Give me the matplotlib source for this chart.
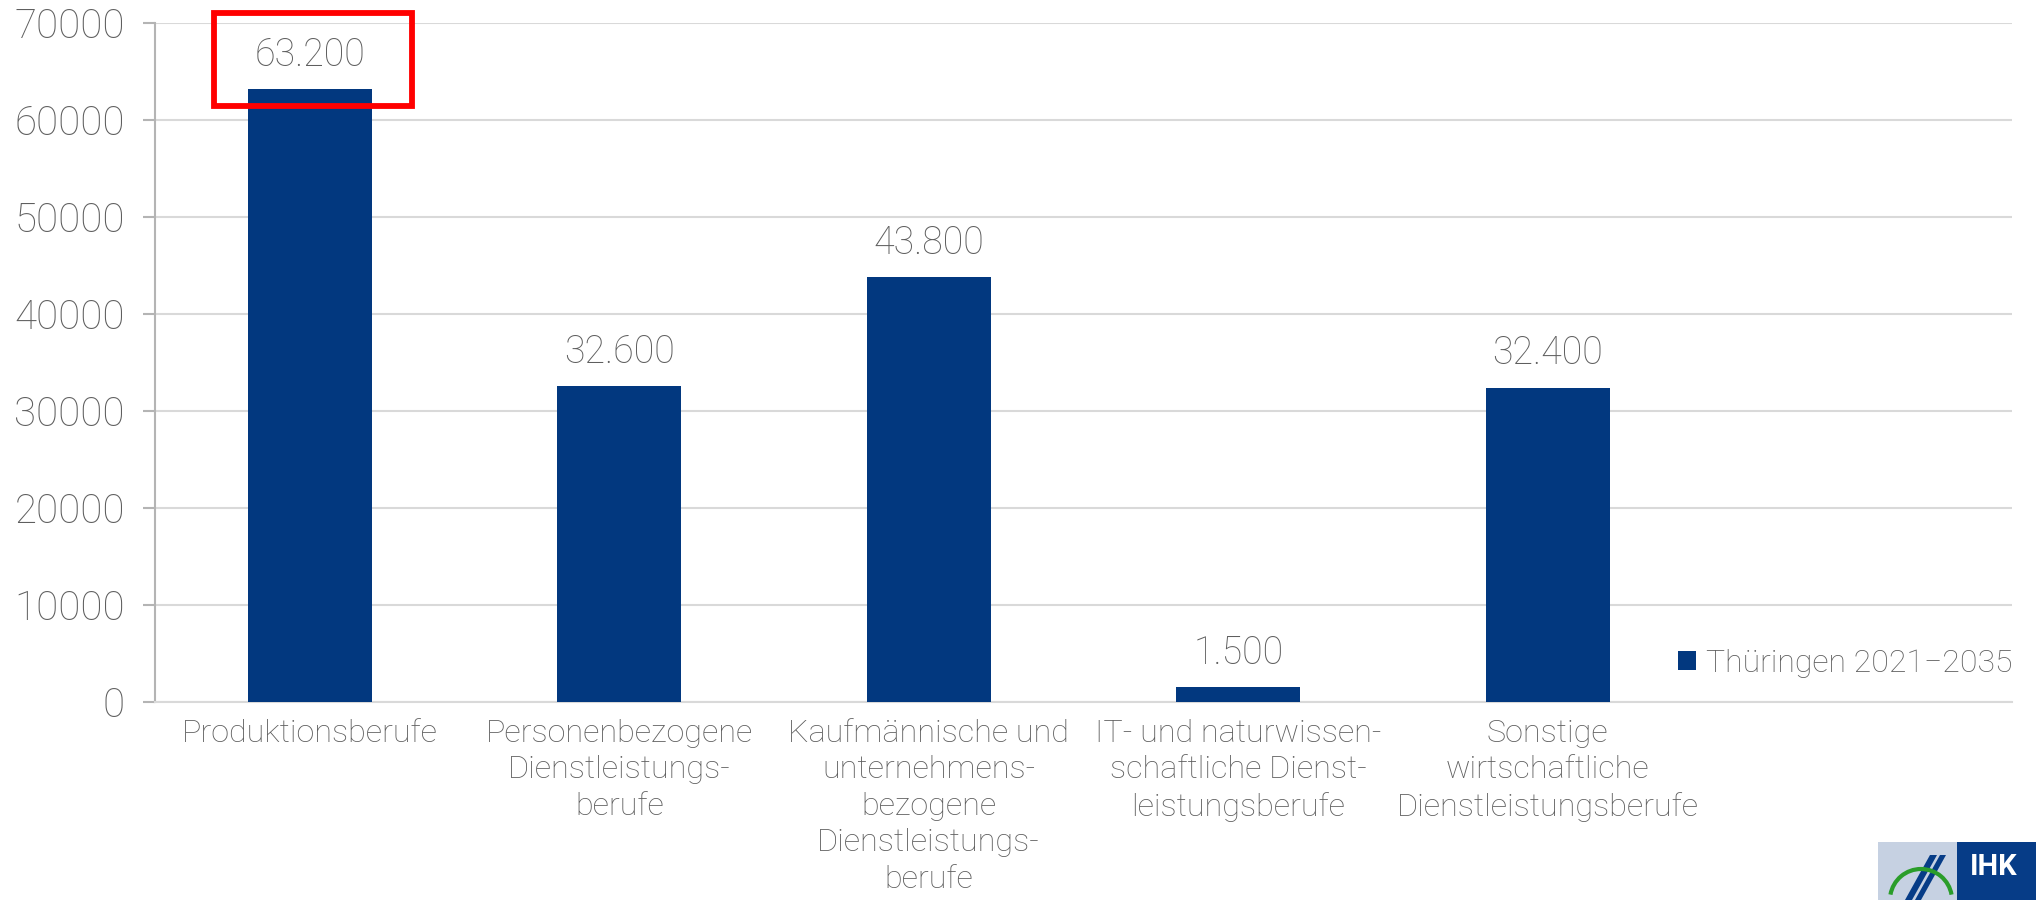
import matplotlib
matplotlib.use("Agg")
import matplotlib.pyplot as plt
from matplotlib.patches import Rectangle, Arc, Polygon
from matplotlib.transforms import IdentityTransform

categories = [
    "Produktionsberufe",
    "Personenbezogene\nDienstleistungs-\nberufe",
    "Kaufmännische und\nunternehmens-\nbezogene\nDienstleistungs-\nberufe",
    "IT- und naturwissen-\nschaftliche Dienst-\nleistungsberufe",
    "Sonstige\nwirtschaftliche\nDienstleistungsberufe",
]
values = [63200, 32600, 43800, 1500, 32400]
series_name = "Thüringen 2021\u22122035"
yticks = [0, 10000, 20000, 30000, 40000, 50000, 60000, 70000]

BAR = "#02387f"
TXT = "#5e5e5e"
GRID = "#d9d9d9"
AXC = "#b4b4b4"

plt.rcParams['font.family'] = ['Roboto', 'DejaVu Sans']

W, H = 2036, 900
fig = plt.figure(figsize=(W / 100, H / 100), dpi=100)
ax = fig.add_axes([155 / W, 1 - 702 / H, (2012 - 155) / W, (702 - 23) / H])

x = list(range(len(categories)))
bars = ax.bar(x, values, width=0.4, color=BAR, label=series_name, zorder=3)

ax.set_xlim(-0.5, 5.5)
ax.set_ylim(0, 70000)
ax.set_yticks(yticks)
ax.set_yticklabels([str(v) for v in yticks])
ax.set_xticks(x)
ax.set_xticklabels(categories, linespacing=1.33)

ax.yaxis.grid(True, color=GRID, lw=1.5, zorder=0)
ax.set_axisbelow(True)
for s in ["top", "right"]:
    ax.spines[s].set_visible(False)
ax.spines["left"].set_color(AXC)
ax.spines["left"].set_linewidth(1.5)
ax.spines["bottom"].set_color(GRID)
ax.spines["bottom"].set_linewidth(1.5)

ax.tick_params(axis="y", colors=AXC, length=8.6, width=1.5, pad=13,
               labelsize=29, labelcolor=TXT)
ax.tick_params(axis="x", length=0, pad=12, labelsize=23.3, labelcolor=TXT)
for lab in ax.get_yticklabels() + ax.get_xticklabels():
    lab.set_fontweight("light")

for b, v in zip(bars, values):
    ax.annotate(f"{v:,}".replace(",", "."),
                xy=(b.get_x() + b.get_width() / 2, v),
                xytext=(0, 11), textcoords="offset points",
                ha="center", va="bottom", fontsize=27, color=TXT,
                fontweight="light")

# red highlight box around the first value
ax.add_patch(Rectangle((-0.309, 61440), 0.639, 9600, fill=False,
                       edgecolor="#ff0000", lw=4.2, clip_on=False, zorder=5))

leg = ax.legend(loc="center right", bbox_to_anchor=(1.0, 0.057),
                frameon=False, fontsize=23, handlelength=0.55,
                handleheight=0.55, handletextpad=0.3, borderpad=0,
                borderaxespad=0)
for t in leg.get_texts():
    t.set_color(TXT)
    t.set_fontweight("light")

# IHK logo (bottom right, cropped)
ident = IdentityTransform()
fig.add_artist(Rectangle((1878, 0), 79, 58, transform=ident,
                         facecolor="#c6d1e2", edgecolor="none"))
fig.add_artist(Rectangle((1957, 0), 79, 58, transform=ident,
                         facecolor="#063c87", edgecolor="none"))
fig.add_artist(Polygon([(1905, 0), (1930, 45), (1937, 45), (1912, 0)],
                       closed=True, transform=ident, facecolor="#063c87",
                       edgecolor="none"))
fig.add_artist(Polygon([(1915, 0), (1940, 45), (1946, 45), (1921, 0)],
                       closed=True, transform=ident, facecolor="#063c87",
                       edgecolor="none"))
fig.add_artist(Arc((1921, 0), 62, 62, theta1=10, theta2=170,
                   transform=ident, edgecolor="#2a9d2a", lw=3))
fig.text(1994 / W, 33 / H, "IHK", ha="center", va="center", color="white",
         fontsize=21, fontweight="bold", family=["Roboto", "DejaVu Sans"])

fig.savefig("out.png", dpi=100, facecolor="white")
